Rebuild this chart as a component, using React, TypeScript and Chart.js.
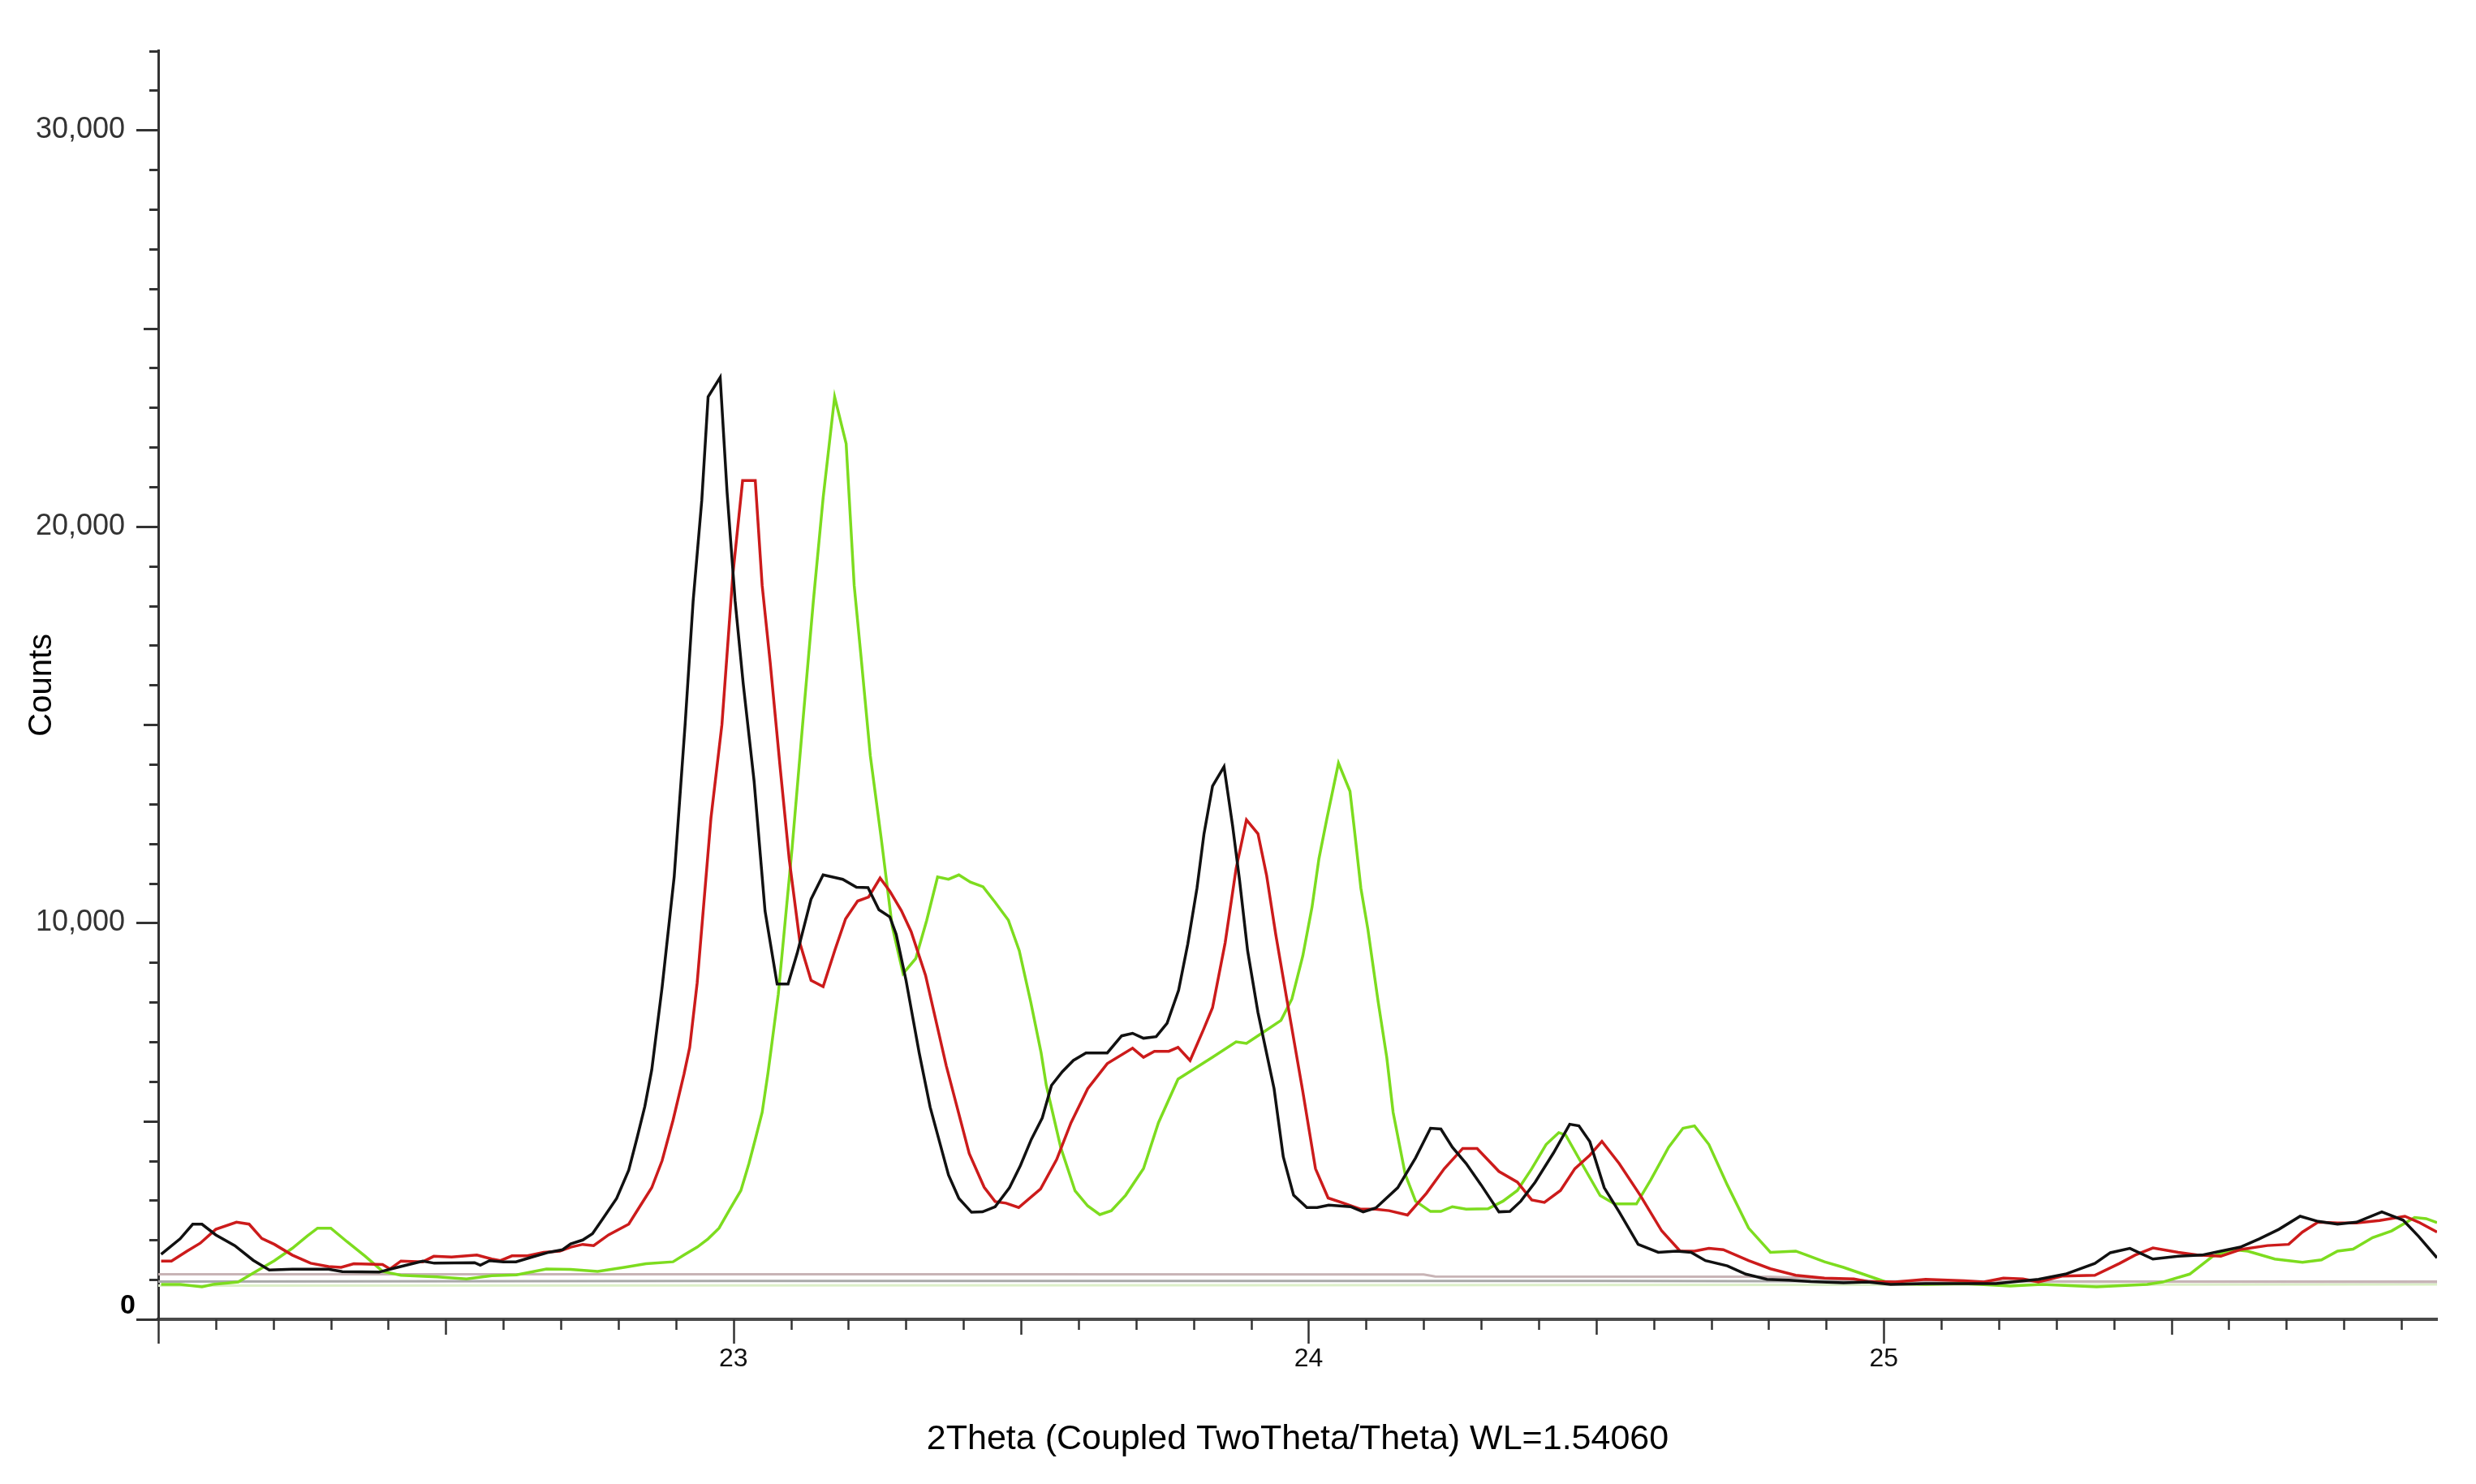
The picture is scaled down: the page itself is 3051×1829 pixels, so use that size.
import React, { useEffect, useRef } from 'react';
import { Chart, registerables } from 'chart.js';

Chart.register(...registerables);

// ---- axis settings / tick labels ----
const X_MIN = 22.0;
const X_MAX = 25.962;
const Y_MIN = 0;
const Y_MAX = 32000;
const xTickLabels = [23, 24, 25];
const yTickLabels = [10000, 20000, 30000];
const xAxisTitle = '2Theta (Coupled TwoTheta/Theta) WL=1.54060';
const yAxisTitle = 'Counts';

// ---- scan data: [2theta, counts] ----
const blackScan: [number, number][] = [
  [22.005, 1640], [22.038, 2030], [22.06, 2400], [22.076, 2400], [22.1, 2130], [22.133, 1860],
  [22.165, 1490], [22.193, 1245], [22.233, 1265], [22.296, 1265], [22.32, 1205], [22.384, 1190],
  [22.41, 1290], [22.46, 1470], [22.48, 1415], [22.55, 1430], [22.56, 1365], [22.576, 1480],
  [22.6, 1450], [22.622, 1450], [22.65, 1570], [22.679, 1690], [22.703, 1755], [22.717, 1900],
  [22.738, 2000], [22.755, 2160], [22.773, 2540], [22.797, 3050], [22.818, 3760], [22.832, 4550],
  [22.846, 5370], [22.858, 6290], [22.876, 8370], [22.897, 11160], [22.916, 15000], [22.93, 18120],
  [22.945, 20660], [22.956, 23270], [22.977, 23760], [22.989, 20860], [23.003, 18120], [23.017, 16040],
  [23.036, 13570], [23.055, 10300], [23.076, 8460], [23.095, 8460], [23.111, 9240], [23.135, 10600],
  [23.156, 11210], [23.19, 11100], [23.214, 10900], [23.234, 10890], [23.253, 10330], [23.272, 10150],
  [23.283, 9710], [23.3, 8560], [23.323, 6720], [23.342, 5355], [23.374, 3640], [23.392, 3050],
  [23.414, 2700], [23.433, 2710], [23.455, 2840], [23.48, 3320], [23.499, 3880], [23.518, 4540],
  [23.537, 5080], [23.553, 5900], [23.572, 6250], [23.591, 6530], [23.613, 6720], [23.65, 6720],
  [23.675, 7150], [23.694, 7215], [23.713, 7090], [23.735, 7130], [23.754, 7470], [23.774, 8300],
  [23.79, 9470], [23.806, 10880], [23.818, 12230], [23.833, 13450], [23.853, 13940], [23.868, 12440],
  [23.88, 11080], [23.894, 9300], [23.912, 7740], [23.94, 5820], [23.956, 4100], [23.974, 3130],
  [23.997, 2820], [24.015, 2820], [24.035, 2880], [24.073, 2840], [24.095, 2710], [24.117, 2810],
  [24.155, 3320], [24.186, 4070], [24.212, 4820], [24.23, 4800], [24.25, 4340], [24.274, 3930],
  [24.3, 3390], [24.331, 2710], [24.35, 2720], [24.369, 2980], [24.394, 3460], [24.426, 4200],
  [24.454, 4920], [24.47, 4880], [24.489, 4480], [24.514, 3320], [24.54, 2710], [24.573, 1890],
  [24.608, 1690], [24.64, 1720], [24.665, 1690], [24.69, 1480], [24.728, 1350], [24.76, 1140],
  [24.797, 1010], [24.835, 990], [24.873, 950], [24.93, 920], [24.972, 940], [25.012, 880],
  [25.073, 900], [25.14, 900], [25.195, 900], [25.269, 1010], [25.316, 1140], [25.367, 1410],
  [25.394, 1680], [25.428, 1790], [25.468, 1520], [25.512, 1590], [25.553, 1620], [25.586, 1720],
  [25.62, 1820], [25.653, 2030], [25.687, 2270], [25.724, 2600], [25.755, 2470], [25.789, 2400],
  [25.822, 2450], [25.866, 2710], [25.903, 2500], [25.93, 2090], [25.962, 1550],
];

const redScan: [number, number][] = [
  [22.005, 1470], [22.023, 1470], [22.05, 1720], [22.073, 1920], [22.1, 2270], [22.136, 2450],
  [22.158, 2400], [22.18, 2040], [22.202, 1890], [22.233, 1620], [22.265, 1415], [22.296, 1330],
  [22.318, 1310], [22.34, 1400], [22.39, 1380], [22.403, 1270], [22.422, 1470], [22.46, 1450],
  [22.479, 1590], [22.51, 1570], [22.554, 1620], [22.58, 1520], [22.595, 1480], [22.615, 1600],
  [22.642, 1600], [22.67, 1690], [22.698, 1720], [22.717, 1820], [22.738, 1890], [22.757, 1860],
  [22.783, 2130], [22.818, 2400], [22.837, 2840], [22.858, 3320], [22.876, 4000], [22.895, 5020],
  [22.914, 6180], [22.924, 6860], [22.937, 8490], [22.961, 12650], [22.98, 15000], [22.999, 18780],
  [23.016, 21160], [23.038, 21160], [23.05, 18510], [23.064, 16560], [23.081, 13960], [23.097, 11610],
  [23.116, 9470], [23.135, 8550], [23.156, 8390], [23.177, 9340], [23.195, 10100], [23.216, 10550],
  [23.235, 10650], [23.255, 11130], [23.272, 10800], [23.292, 10310], [23.309, 9780], [23.334, 8680],
  [23.37, 6400], [23.41, 4180], [23.436, 3330], [23.455, 2970], [23.474, 2930], [23.496, 2820],
  [23.534, 3290], [23.562, 4030], [23.587, 4960], [23.616, 5820], [23.65, 6450], [23.694, 6840],
  [23.713, 6610], [23.732, 6760], [23.757, 6760], [23.773, 6860], [23.794, 6530], [23.817, 7300],
  [23.833, 7860], [23.855, 9500], [23.874, 11370], [23.892, 12600], [23.912, 12250], [23.927, 11200],
  [23.943, 9700], [23.962, 8090], [23.99, 5740], [24.012, 3800], [24.034, 3060], [24.059, 2940],
  [24.09, 2780], [24.116, 2780], [24.14, 2740], [24.172, 2630], [24.205, 3180], [24.236, 3800],
  [24.268, 4310], [24.293, 4310], [24.331, 3730], [24.363, 3460], [24.388, 3010], [24.41, 2950],
  [24.438, 3250], [24.463, 3800], [24.489, 4140], [24.51, 4490], [24.54, 3930], [24.577, 3120],
  [24.614, 2230], [24.646, 1720], [24.671, 1720], [24.696, 1790], [24.721, 1755], [24.765, 1480],
  [24.803, 1275], [24.847, 1110], [24.897, 1040], [24.948, 1020], [24.972, 950], [25.02, 940],
  [25.073, 1010], [25.14, 970], [25.174, 940], [25.208, 1040], [25.242, 1020], [25.269, 940],
  [25.31, 1090], [25.367, 1110], [25.41, 1410], [25.437, 1620], [25.468, 1800], [25.512, 1690],
  [25.545, 1620], [25.586, 1590], [25.62, 1760], [25.667, 1860], [25.704, 1890], [25.728, 2200],
  [25.755, 2450], [25.789, 2430], [25.822, 2430], [25.862, 2490], [25.906, 2600], [25.93, 2450],
  [25.962, 2200],
];

const greenScan: [number, number][] = [
  [22.005, 880], [22.038, 880], [22.076, 820], [22.095, 880], [22.139, 940], [22.17, 1210],
  [22.202, 1480], [22.233, 1790], [22.259, 2100], [22.277, 2300], [22.3, 2300], [22.328, 1960],
  [22.36, 1590], [22.39, 1210], [22.422, 1110], [22.453, 1090], [22.485, 1070], [22.536, 1020],
  [22.58, 1100], [22.623, 1120], [22.675, 1270], [22.717, 1260], [22.764, 1210], [22.81, 1310],
  [22.848, 1400], [22.895, 1450], [22.914, 1620], [22.937, 1820], [22.956, 2030], [22.975, 2300],
  [22.994, 2780], [23.013, 3250], [23.027, 3930], [23.038, 4540], [23.05, 5220], [23.06, 6200],
  [23.066, 6860], [23.078, 8200], [23.102, 11880], [23.121, 15120], [23.139, 18120], [23.156, 20720],
  [23.176, 23270], [23.196, 22090], [23.21, 18510], [23.222, 16700], [23.238, 14220], [23.257, 12130],
  [23.276, 9920], [23.295, 8720], [23.317, 9100], [23.336, 10060], [23.355, 11160], [23.374, 11100],
  [23.392, 11210], [23.412, 11030], [23.434, 10910], [23.455, 10520], [23.478, 10070], [23.497, 9300],
  [23.517, 8000], [23.535, 6720], [23.544, 5900], [23.569, 4340], [23.594, 3240], [23.616, 2860],
  [23.637, 2640], [23.657, 2740], [23.682, 3130], [23.713, 3800], [23.739, 4960], [23.773, 6060],
  [23.798, 6290], [23.833, 6610], [23.874, 7000], [23.892, 6960], [23.918, 7210], [23.952, 7540],
  [23.971, 8080], [23.99, 9170], [24.006, 10400], [24.018, 11620], [24.032, 12640], [24.052, 14030],
  [24.072, 13320], [24.079, 12440], [24.091, 10870], [24.103, 9850], [24.121, 8010], [24.136, 6600],
  [24.147, 5220], [24.168, 3660], [24.186, 2980], [24.212, 2720], [24.23, 2720], [24.25, 2840],
  [24.274, 2780], [24.312, 2790], [24.338, 2980], [24.363, 3250], [24.388, 3800], [24.413, 4410],
  [24.435, 4710], [24.447, 4650], [24.475, 3930], [24.507, 3120], [24.532, 2910], [24.57, 2910],
  [24.595, 3520], [24.626, 4340], [24.651, 4820], [24.671, 4880], [24.696, 4410], [24.728, 3390],
  [24.765, 2300], [24.803, 1690], [24.847, 1720], [24.866, 1620], [24.897, 1450], [24.93, 1310],
  [24.972, 1100], [25.012, 900], [25.073, 880], [25.14, 900], [25.22, 840], [25.275, 880],
  [25.37, 820], [25.458, 880], [25.485, 940], [25.532, 1140], [25.572, 1590], [25.606, 1760],
  [25.633, 1720], [25.68, 1520], [25.728, 1440], [25.761, 1500], [25.789, 1720], [25.816, 1770],
  [25.85, 2060], [25.883, 2230], [25.923, 2570], [25.943, 2540], [25.962, 2440],
];

// ---- fitted background lines of each scan ----
const redBackground: [number, number][] = [
  [22.0, 1135], [23.5, 1135], [24.2, 1130], [24.22, 1080], [24.8, 1075], [24.95, 1000], [25.0, 950], [25.962, 945],
];
const blackBackground: [number, number][] = [
  [22.0, 950], [23.0, 965], [24.5, 965], [25.0, 955], [25.962, 945],
];
const greenBackground: [number, number][] = [
  [22.0, 850], [24.0, 860], [25.0, 870], [25.962, 880],
];

const FONT = '"Liberation Sans", Arial, Helvetica, sans-serif';

const toPoints = (arr: [number, number][]) => arr.map(([x, y]) => ({ x, y }));

const tickPlugin = {
  id: 'xrdTicks',
  afterDraw(chart: any) {
    const ctx = chart.ctx as CanvasRenderingContext2D;
    const xs = chart.scales.x;
    const ys = chart.scales.y;
    const area = chart.chartArea;
    ctx.save();
    ctx.strokeStyle = '#333333';
    // x ticks every 0.1, longer at 0.5 and 1
    ctx.lineWidth = 2.5;
    for (let k = Math.ceil(X_MIN * 10); k <= Math.floor(X_MAX * 10); k++) {
      const px = Math.round(xs.getPixelForValue(k / 10)) + 0.5;
      const len = k % 10 === 0 ? 30 : k % 5 === 0 ? 19 : 13;
      ctx.beginPath();
      ctx.moveTo(px, area.bottom);
      ctx.lineTo(px, area.bottom + len);
      ctx.stroke();
    }
    // y ticks every 1000
    ctx.lineWidth = 3;
    for (let k = 0; k <= Y_MAX / 1000; k++) {
      const py = Math.round(ys.getPixelForValue(k * 1000)) + 0.5;
      const len = k % 10 === 0 ? 27 : k % 5 === 0 ? 18 : 11;
      ctx.beginPath();
      ctx.moveTo(area.left, py);
      ctx.lineTo(area.left - len, py);
      ctx.stroke();
    }
    // zero label
    ctx.fillStyle = '#000000';
    ctx.font = `bold 34px ${FONT}`;
    ctx.textAlign = 'right';
    ctx.textBaseline = 'middle';
    ctx.fillText('0', area.left - 28, ys.getPixelForValue(0) - 16);
    ctx.restore();
  },
};

export default function App() {
  const canvasRef = useRef<HTMLCanvasElement | null>(null);

  useEffect(() => {
    if (!canvasRef.current) return;
    const lineDs = (label: string, data: [number, number][], color: string, width: number, order: number) => ({
      label,
      data: toPoints(data),
      borderColor: color,
      backgroundColor: color,
      borderWidth: width,
      pointRadius: 0,
      tension: 0,
      fill: false,
      order,
    });
    const chart = new Chart(canvasRef.current, {
      type: 'line',
      data: {
        datasets: [
          lineDs('Red background', redBackground, '#c8b4b6', 3, 10),
          lineDs('Black background', blackBackground, '#a9a9a9', 3, 11),
          lineDs('Green background', greenBackground, '#dcefc8', 3, 12),
          lineDs('Green scan', greenScan, '#7ddc1f', 3.5, 3),
          lineDs('Red scan', redScan, '#cc1b1b', 3.5, 2),
          lineDs('Black scan', blackScan, '#111111', 3.5, 1),
        ],
      },
      options: {
        animation: false,
        responsive: false,
        devicePixelRatio: 1,
        layout: { padding: { left: 0, right: 48, top: 58, bottom: 0 } },
        plugins: { legend: { display: false }, tooltip: { enabled: false } },
        scales: {
          x: {
            type: 'linear',
            min: X_MIN,
            max: X_MAX,
            grid: { display: false, drawTicks: false },
            border: { display: true, color: '#4a4a4a', width: 4 },
            afterBuildTicks: (scale: any) => {
              scale.ticks = xTickLabels.map((v) => ({ value: v }));
            },
            afterFit: (scale: any) => {
              scale.height = 203;
            },
            ticks: {
              padding: 30,
              color: '#111111',
              font: { family: FONT, size: 32 },
              callback: (v: any) => String(v),
            },
            title: {
              display: true,
              text: xAxisTitle,
              color: '#000000',
              font: { family: FONT, size: 43 },
              padding: { top: 0, bottom: 29.2 },
            },
          },
          y: {
            type: 'linear',
            min: Y_MIN,
            max: Y_MAX,
            grid: { display: false, drawTicks: false },
            border: { display: true, color: '#333333', width: 3 },
            afterBuildTicks: (scale: any) => {
              scale.ticks = yTickLabels.map((v) => ({ value: v }));
            },
            afterFit: (scale: any) => {
              scale.width = 195;
            },
            ticks: {
              padding: 41,
              color: '#333333',
              font: { family: FONT, size: 36 },
              callback: (v: any) => Number(v).toLocaleString('en-US'),
            },
            title: {
              display: true,
              text: yAxisTitle,
              color: '#000000',
              font: { family: FONT, size: 40 },
              padding: { top: 28, bottom: 0 },
            },
          },
        },
      },
      plugins: [tickPlugin],
    } as any);
    return () => chart.destroy();
  }, []);

  return (
    <div style={{ position: 'fixed', left: 0, top: 0, width: 3051, height: 1829, background: '#ffffff' }}>
      <canvas ref={canvasRef} width={3051} height={1829} style={{ display: 'block', width: 3051, height: 1829 }} />
    </div>
  );
}
